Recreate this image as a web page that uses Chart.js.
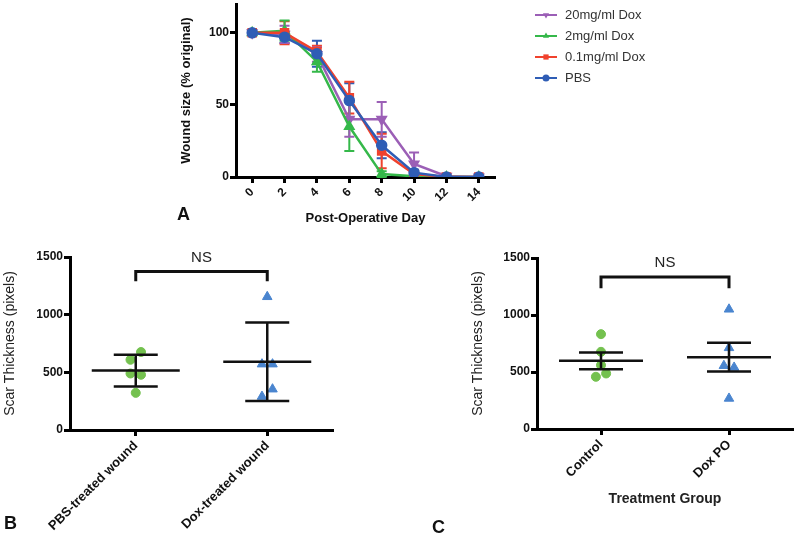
<!DOCTYPE html>
<html>
<head>
<meta charset="utf-8">
<script src="https://cdn.jsdelivr.net/npm/chart.js@4.4.1/dist/chart.umd.min.js"></script>
<style>
body { margin: 0; background: #fff; width: 800px; height: 537px; position: relative; overflow: hidden; }
canvas { position: absolute; }
.tag { position: absolute; font: bold 18px 'Liberation Sans', Arial, sans-serif; line-height: 18px; color: #111; }
</style>
</head>
<body>
<canvas id="chartA" width="500" height="240" style="left:170px;top:-10px"></canvas>
<canvas id="chartB" width="345" height="297" style="left:0px;top:240px"></canvas>
<canvas id="chartC" width="380" height="297" style="left:420px;top:240px"></canvas>
<div class="tag" style="left:177px;top:205px">A</div>
<div class="tag" style="left:4px;top:514px">B</div>
<div class="tag" style="left:432px;top:518px">C</div>
<script>
// panel A - wound closure
var days = [0, 2, 4, 6, 8, 10, 12, 14];
var woundTicks = [0, 50, 100];
var seriesNames = ['20mg/ml Dox', '2mg/ml Dox', '0.1mg/ml Dox', 'PBS'];
var dox20 = [100, 99, 85, 40, 40, 9, 0.5, 0];
var dox20Err = [0, 6, 5, 12, 12, 8, 0, 0];
var dox2 = [100, 101.5, 80, 35, 2, 0.5, 0, 0];
var dox2Err = [0, 7, 7, 17, 2, 0, 0, 0];
var dox01 = [100, 100, 87, 55, 18, 2, 0, 0];
var dox01Err = [0, 8, 4, 11, 12, 1, 0, 0];
var pbs = [100, 97, 85.5, 53, 22, 3, 0, 0];
var pbsErr = [0, 4, 9, 12, 9, 2, 0, 0];

// panel B - scar thickness, wound injection
var woundGroups = ['PBS-treated wound', 'Dox-treated wound'];
var pbsWound = [676, 609, 490, 479, 322];
var pbsWoundJitter = [0.04, -0.04, -0.04, 0.04, 0];
var doxWound = [1155, 571, 571, 354, 290];
var doxWoundJitter = [0, -0.04, 0.04, 0.04, -0.04];
var woundMeans = [515, 592];
var woundSd = [138, 340];

// panel C - scar thickness, oral dox
var oralGroups = ['Control', 'Dox PO'];
var controlOral = [832, 677, 560, 458, 487];
var controlJitter = [0, 0, 0, -0.04, 0.04];
var doxOral = [1050, 712, 555, 540, 268];
var doxOralJitter = [0, 0, -0.04, 0.04, 0];
var oralMeans = [598, 630];
var oralSem = [73, 126];

var scarTicks = [0, 500, 1000, 1500];

var FONT = "'Liberation Sans', Arial, sans-serif";
Chart.defaults.font.family = FONT;
Chart.defaults.color = '#111';

function drawMarker(ctx, style, rot, x, y, r, color) {
    ctx.save();
    ctx.fillStyle = color;
    ctx.translate(x, y);
    ctx.rotate(rot * Math.PI / 180);
    ctx.beginPath();
    if (style === 'circle') {
        ctx.arc(0, 0, r, 0, Math.PI * 2);
    } else if (style === 'rect') {
        ctx.rect(-r * 0.75, -r * 0.75, r * 1.5, r * 1.5);
    } else {
        ctx.moveTo(0, -r);
        ctx.lineTo(r * 0.87, r * 0.5);
        ctx.lineTo(-r * 0.87, r * 0.5);
        ctx.closePath();
    }
    ctx.fill();
    ctx.restore();
}

// vertical error bars with caps, drawn under the lines
var errorBars = {
    id: 'errorBars',
    beforeDatasetsDraw: function(chart) {
        var ctx = chart.ctx, x = chart.scales.x, y = chart.scales.y;
        chart.data.datasets.slice().reverse().forEach(function(ds) {
            ctx.save();
            ctx.strokeStyle = ds.borderColor;
            ctx.lineWidth = 2;
            ds.data.forEach(function(p, j) {
                var e = ds.errors[j];
                if (!e) return;
                var px = x.getPixelForValue(p.x);
                var top = y.getPixelForValue(p.y + e);
                var bot = y.getPixelForValue(p.y - e);
                ctx.beginPath();
                ctx.moveTo(px, top); ctx.lineTo(px, bot);
                ctx.moveTo(px - 5, top); ctx.lineTo(px + 5, top);
                ctx.moveTo(px - 5, bot); ctx.lineTo(px + 5, bot);
                ctx.stroke();
            });
            ctx.restore();
        });
    }
};

// legend to the right of the plot, line with marker
var sideLegend = {
    id: 'sideLegend',
    afterDraw: function(chart) {
        var ctx = chart.ctx, area = chart.chartArea;
        var x0 = area.right + 40;
        chart.data.datasets.forEach(function(ds, i) {
            var yy = area.top + 11 + i * 21;
            ctx.save();
            ctx.strokeStyle = ds.borderColor;
            ctx.lineWidth = 2;
            ctx.beginPath();
            ctx.moveTo(x0, yy); ctx.lineTo(x0 + 22, yy);
            ctx.stroke();
            ctx.restore();
            drawMarker(ctx, ds.pointStyle, ds.pointRotation || 0, x0 + 11, yy, 3.5, ds.borderColor);
            ctx.save();
            ctx.fillStyle = '#333';
            ctx.font = '13px ' + FONT;
            ctx.textBaseline = 'middle';
            ctx.fillText(ds.label, x0 + 30, yy);
            ctx.restore();
        });
    }
};

// mean line with error bar, plus NS bracket
var meanBars = {
    id: 'meanBars',
    afterDatasetsDraw: function(chart, args, opts) {
        var ctx = chart.ctx, x = chart.scales.x, y = chart.scales.y;
        ctx.save();
        ctx.strokeStyle = '#111';
        ctx.lineWidth = 2.5;
        opts.means.forEach(function(m, i) {
            var px = x.getPixelForValue(i);
            var pm = y.getPixelForValue(m);
            var top = y.getPixelForValue(m + opts.errs[i]);
            var bot = y.getPixelForValue(m - opts.errs[i]);
            ctx.beginPath();
            ctx.moveTo(px - opts.half, pm); ctx.lineTo(px + opts.half, pm);
            ctx.moveTo(px, top); ctx.lineTo(px, bot);
            ctx.moveTo(px - opts.cap, top); ctx.lineTo(px + opts.cap, top);
            ctx.moveTo(px - opts.cap, bot); ctx.lineTo(px + opts.cap, bot);
            ctx.stroke();
        });
        // bracket
        var x1 = x.getPixelForValue(0), x2 = x.getPixelForValue(1);
        var yb = y.getPixelForValue(opts.bracket), yl = y.getPixelForValue(opts.leg);
        ctx.lineWidth = 3;
        ctx.beginPath();
        ctx.moveTo(x1, yl); ctx.lineTo(x1, yb); ctx.lineTo(x2, yb); ctx.lineTo(x2, yl);
        ctx.stroke();
        ctx.fillStyle = '#222';
        ctx.font = '15px ' + FONT;
        ctx.textAlign = 'center';
        ctx.textBaseline = 'middle';
        ctx.fillText(opts.label, (x1 + x2) / 2, yb - 14);
        ctx.restore();
    }
};

function plainNumber(v) { return String(v); }

function axisStyle(extra) {
    var base = {
        grid: { drawOnChartArea: false, drawTicks: true, tickLength: 6, tickWidth: 3, tickColor: '#000' },
        border: { display: true, color: '#000', width: 3 }
    };
    return Object.assign(base, extra);
}

function makeSeries(label, values, errors, color, style, rot, order) {
    return {
        label: label,
        data: days.map(function(d, i) { return { x: d, y: values[i] }; }),
        errors: errors,
        borderColor: color,
        backgroundColor: color,
        borderWidth: 2.5,
        pointStyle: style,
        pointRotation: rot,
        pointRadius: style === 'rect' ? 5 : 4.5,
        order: order
    };
}

new Chart(document.getElementById('chartA'), {
    type: 'line',
    data: {
        datasets: [
            makeSeries(seriesNames[0], dox20, dox20Err, '#9b5fb6', 'triangle', 180, 3),
            makeSeries(seriesNames[1], dox2, dox2Err, '#35b84a', 'triangle', 0, 2),
            makeSeries(seriesNames[2], dox01, dox01Err, '#f0422d', 'rect', 0, 1),
            makeSeries(seriesNames[3], pbs, pbsErr, '#2f5db5', 'circle', 0, 0)
        ]
    },
    options: {
        responsive: false,
        animation: false,
        layout: { padding: { top: 14, right: 175, left: 0, bottom: 0 } },
        plugins: { legend: { display: false }, tooltip: { enabled: false } },
        scales: {
            x: axisStyle({
                type: 'linear', min: -1, max: 15,
                afterBuildTicks: function(s) { s.ticks = days.map(function(v) { return { value: v }; }); },
                afterFit: function(s) { s.height = 53; },
                ticks: { minRotation: 45, maxRotation: 45, autoSkip: false, padding: 2, font: { size: 12, weight: 'bold' }, callback: plainNumber },
                title: { display: true, text: 'Post-Operative Day', font: { size: 13, weight: 'bold' }, padding: { top: 4, bottom: 4 } }
            }),
            y: axisStyle({
                min: 0, max: 120,
                afterBuildTicks: function(s) { s.ticks = woundTicks.map(function(v) { return { value: v }; }); },
                afterFit: function(s) { s.width = 66; },
                ticks: { padding: 1, font: { size: 12, weight: 'bold' }, callback: plainNumber },
                title: { display: true, text: 'Wound size (% original)', font: { size: 13, weight: 'bold' }, padding: { top: 9, bottom: 0 } }
            })
        }
    },
    plugins: [errorBars, sideLegend]
});

function scarChart(id, groups, a, aJit, b, bJit, means, errs, bracket, leg, half, yPad, titleX) {
    var xOpts = axisStyle({
        type: 'linear', min: -0.5, max: 1.5,
        afterBuildTicks: function(s) { s.ticks = [0, 1].map(function(v) { return { value: v }; }); },
        afterFit: function(s) { s.height = yPad.xh; },
        ticks: { minRotation: 45, maxRotation: 45, autoSkip: false, padding: 2,
                 font: { size: 13, weight: 'bold' },
                 callback: function(v) { return groups[v]; } }
    });
    if (titleX) {
        xOpts.title = { display: true, text: titleX, font: { size: 14, weight: 'bold' }, color: '#222', padding: { top: 4, bottom: 29 } };
    }
    return new Chart(document.getElementById(id), {
        type: 'scatter',
        data: {
            datasets: [{
                data: a.map(function(v, i) { return { x: 0 + aJit[i], y: v }; }),
                pointStyle: 'circle', pointRadius: 4.5,
                backgroundColor: '#74c14f', borderColor: '#74c14f'
            }, {
                data: b.map(function(v, i) { return { x: 1 + bJit[i], y: v }; }),
                pointStyle: 'triangle', pointRadius: 5.5,
                backgroundColor: '#4a85cf', borderColor: '#4a85cf'
            }]
        },
        options: {
            responsive: false,
            animation: false,
            layout: { padding: yPad.pad },
            plugins: {
                legend: { display: false }, tooltip: { enabled: false },
                meanBars: { means: means, errs: errs, half: half, cap: 22, bracket: bracket, leg: leg, label: 'NS' }
            },
            scales: {
                x: xOpts,
                y: axisStyle({
                    min: 0, max: 1500,
                    afterBuildTicks: function(s) { s.ticks = scarTicks.map(function(v) { return { value: v }; }); },
                    afterFit: function(s) { s.width = yPad.yw; },
                    ticks: { padding: 1, font: { size: 12, weight: 'bold' }, callback: plainNumber },
                    title: { display: true, text: 'Scar Thickness (pixels)', font: { size: 14 }, color: '#222', padding: { top: yPad.tp, bottom: 0 } }
                })
            }
        },
        plugins: [meanBars]
    });
}

scarChart('chartB', woundGroups, pbsWound, pbsWoundJitter, doxWound, doxWoundJitter,
    woundMeans, woundSd, 1375, 1290, 44,
    { pad: { top: 17, right: 12, left: 0, bottom: 0 }, xh: 107, yw: 70, tp: 2 }, null);

scarChart('chartC', oralGroups, controlOral, controlJitter, doxOral, doxOralJitter,
    oralMeans, oralSem, 1334, 1235, 42,
    { pad: { top: 18, right: 7, left: 50, bottom: 0 }, xh: 108, yw: 67, tp: 0 }, 'Treatment Group');
</script>
</body>
</html>
